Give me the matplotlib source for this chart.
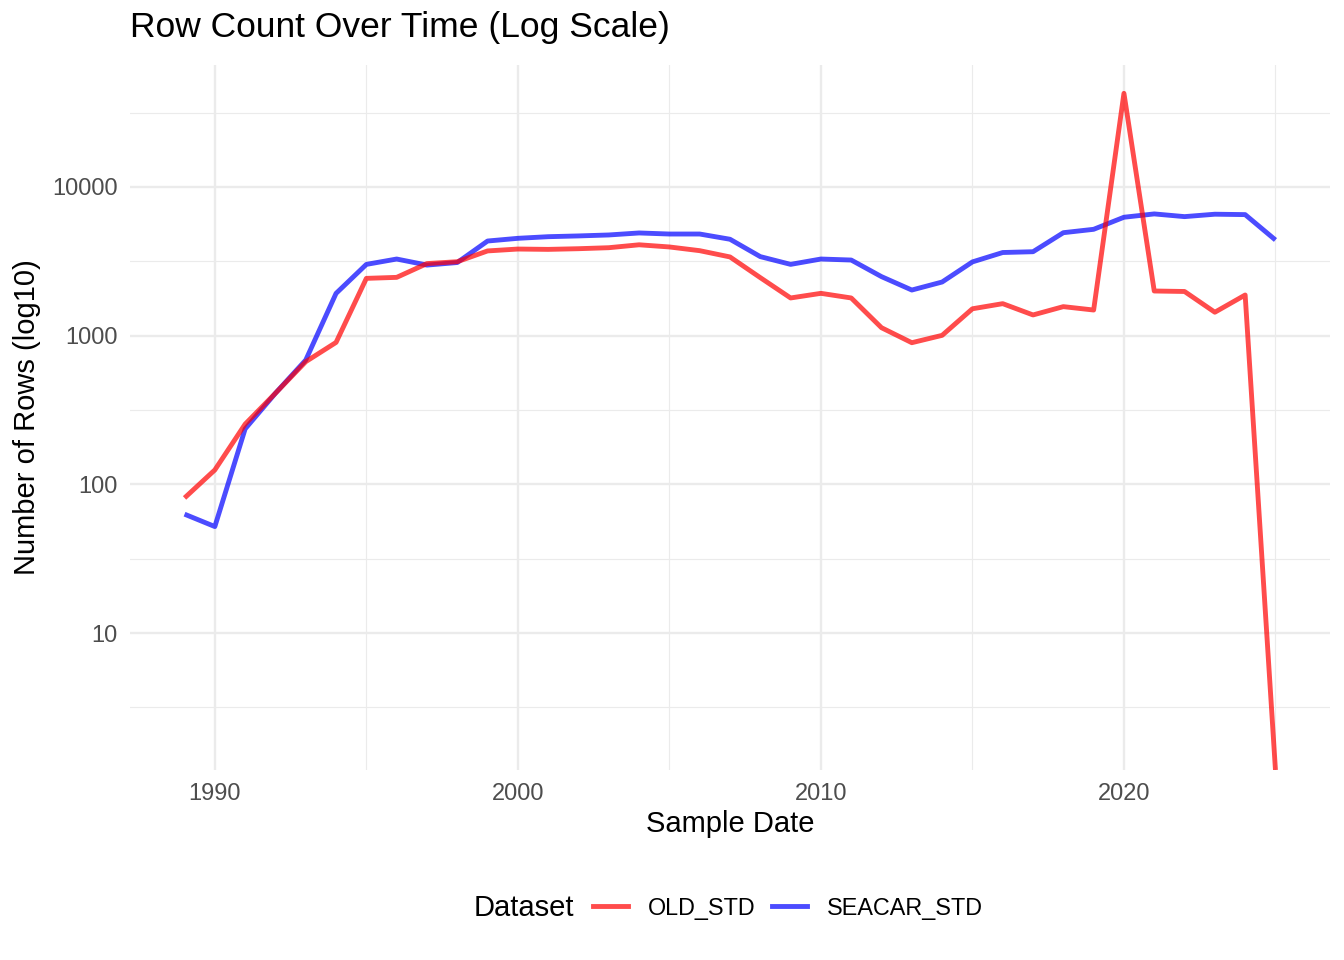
import numpy as np
import matplotlib
matplotlib.use("Agg")
import matplotlib.pyplot as plt
from matplotlib.ticker import FixedLocator, NullFormatter

plt.rcParams['font.family'] = ['Liberation Sans', 'DejaVu Sans']

# yearly row counts
years = list(range(1989, 2026))
old_std = [81, 125, 254, 410, 668, 900, 2426, 2464, 3050, 3140,
           3710, 3820, 3800, 3840, 3900, 4080, 3945, 3725, 3380, 2453,
           1791, 1924, 1791, 1130, 896, 1004, 1515, 1640, 1377, 1566,
           1486, 42560, 1995, 1980, 1436, 1875, 0]
seacar_std = [63, 52, 236, 410, 685, 1923, 3012, 3273, 2980, 3100,
              4325, 4510, 4625, 4680, 4750, 4900, 4820, 4820, 4445, 3397,
              3013, 3273, 3222, 2492, 2025, 2293, 3130, 3620, 3665, 4920,
              5185, 6250, 6580, 6310, 6550, 6510, 4395]

y_lo, y_hi = 1.2, 66000

fig = plt.figure(figsize=(13.44, 9.6), dpi=100)
W, H = 1344, 960
ax = fig.add_axes([130 / W, 1 - 770 / H, 1200 / W, 705 / H])

# zero counts go to the panel edge, as ggplot does with -Inf
old_plot = np.where(np.array(old_std) > 0, old_std, y_lo)

ax.plot(years, seacar_std, color='blue', alpha=0.7, lw=3.5, solid_capstyle='butt', zorder=3)
ax.plot(years, old_plot, color='red', alpha=0.7, lw=3.5, solid_capstyle='butt', zorder=4)

ax.set_yscale('log')
ax.set_ylim(y_lo, y_hi)
ax.set_xlim(1987.2, 2026.8)

ax.yaxis.set_major_locator(FixedLocator([10, 100, 1000, 10000]))
ax.set_yticklabels(['10', '100', '1000', '10000'])
ax.yaxis.set_minor_locator(FixedLocator([10 ** k for k in (0.5, 1.5, 2.5, 3.5, 4.5)]))
ax.yaxis.set_minor_formatter(NullFormatter())
ax.xaxis.set_major_locator(FixedLocator([1990, 2000, 2010, 2020]))
ax.set_xticklabels(['1990', '2000', '2010', '2020'])
ax.xaxis.set_minor_locator(FixedLocator([1995, 2005, 2015, 2025]))

ax.grid(which='major', color='#EBEBEB', lw=1.7)
ax.grid(which='minor', color='#EBEBEB', lw=0.85)
ax.set_axisbelow(True)
for s in ax.spines.values():
    s.set_visible(False)
ax.tick_params(which='both', length=0, labelsize=17, labelcolor='#4D4D4D', pad=9)

ax.set_xlabel('Sample Date', fontsize=21, va='center')
ax.xaxis.set_label_coords(0.5, -(824 - 770) / 705)
ax.set_ylabel('Number of Rows (log10)', fontsize=21, va='center')
ax.yaxis.set_label_coords(-(130 - 27) / 1200, 0.5)

fig.text(130 / W, 1 - 28 / H, 'Row Count Over Time (Log Scale)', fontsize=25.5,
         ha='left', va='center')

# legend at the bottom, title on the left
fig.text(474 / W, 1 - 908 / H, 'Dataset', fontsize=21, ha='left', va='center')
h_old, = ax.plot([], [], color='red', alpha=0.7, lw=3.5)
h_sea, = ax.plot([], [], color='blue', alpha=0.7, lw=3.5)
fig.legend([h_old, h_sea], ['OLD_STD', 'SEACAR_STD'], loc='center left',
           bbox_to_anchor=(593 / W, 1 - 908 / H), ncol=2, frameon=False,
           fontsize=16.8, handlelength=1.5, handletextpad=0.86, columnspacing=0.69,
           borderpad=0, borderaxespad=0)

fig.savefig('out.png', dpi=100)
